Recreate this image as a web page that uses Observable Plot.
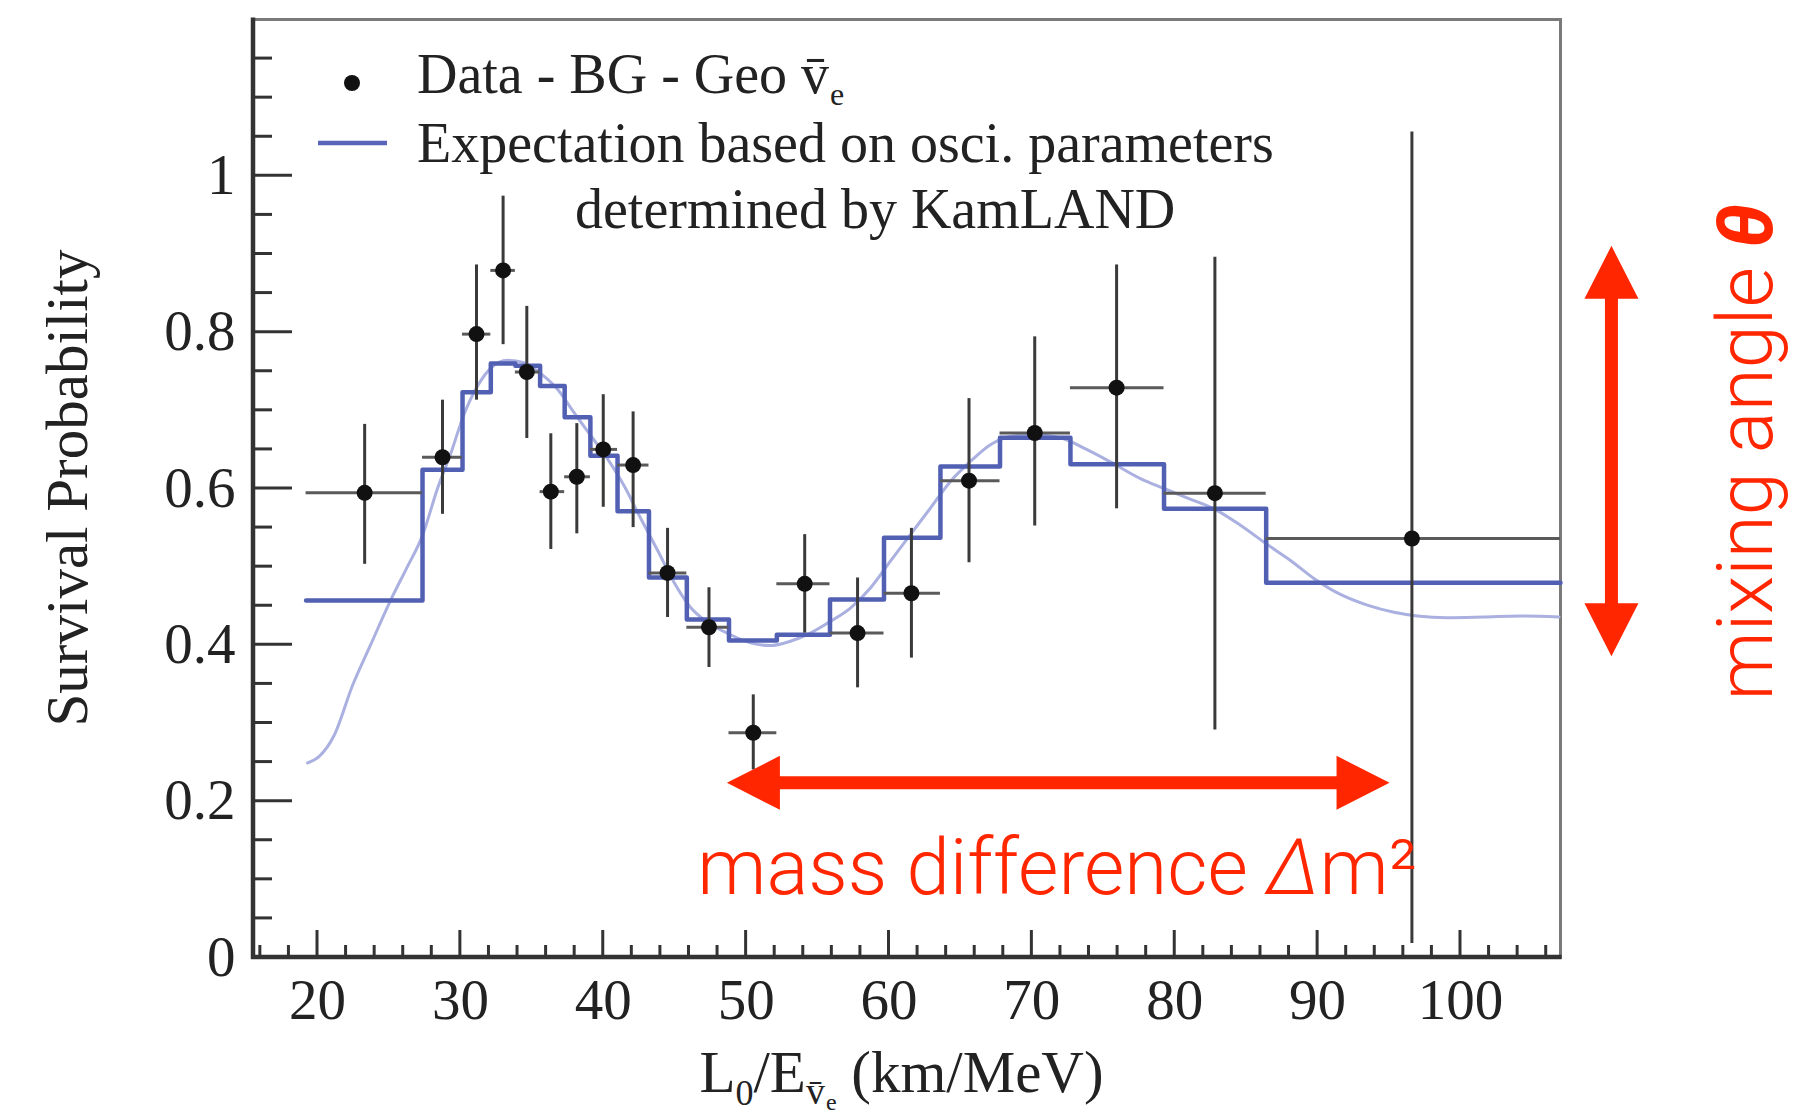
<!DOCTYPE html>
<html><head><meta charset="utf-8">
<script src="https://cdn.jsdelivr.net/npm/d3@7"></script>
<script src="https://cdn.jsdelivr.net/npm/@observablehq/plot@0.6"></script>
<style>body{margin:0;background:#fff}</style>
</head><body><div id="chart"></div>
<script>
// ---- data ----
const binEdges = [19.2, 27.35, 30.15, 32.13, 33.85, 35.58, 37.3, 39.1, 41.0, 43.2, 45.85, 48.8, 52.15, 55.87, 59.65, 63.6, 67.77, 72.7, 79.25, 86.4, 107.0];
const expectedRate = [0.4566, 0.624, 0.723, 0.760, 0.757, 0.731, 0.691, 0.642, 0.571, 0.486, 0.4325, 0.4055, 0.413, 0.458, 0.537, 0.628, 0.665, 0.631, 0.574, 0.4795];
const pointX = [23.3, 28.75, 31.13, 32.99, 34.65, 36.33, 38.15, 40.0, 42.09, 44.5, 47.4, 50.5, 54.1, 57.8, 61.57, 65.6, 70.2, 75.93, 82.81, 96.6];
const pointP = [0.5945, 0.640, 0.7975, 0.879, 0.749, 0.596, 0.615, 0.650, 0.630, 0.492, 0.4225, 0.2875, 0.478, 0.415, 0.466, 0.610, 0.671, 0.729, 0.594, 0.536];
const errLow = [0.503, 0.567, 0.713, 0.784, 0.664, 0.522, 0.542, 0.576, 0.550, 0.435, 0.371, 0.24, 0.415, 0.345, 0.383, 0.505, 0.552, 0.574, 0.291, 0.018];
const errHigh = [0.682, 0.713, 0.886, 0.974, 0.833, 0.670, 0.683, 0.720, 0.698, 0.549, 0.473, 0.336, 0.541, 0.4855, 0.549, 0.715, 0.794, 0.886, 0.896, 1.056];
const curveX = [19.3, 20.1, 21.16, 22.45, 23.73, 25.13, 26.18, 27.35, 28.4, 29.33, 30.26, 31.2, 32.13, 33.3, 34.46, 35.63, 36.8, 37.96, 39.13, 40.3, 41.46, 42.6, 43.8, 44.95, 46.1, 47.2, 48.9, 50.3, 51.7, 53.1, 54.5, 55.9, 57.3, 58.7, 60.1, 61.5, 62.9, 64.3, 65.7, 67.1, 68.5, 70.15, 72.0, 73.65, 75.5, 77.6, 79.25, 80.9, 82.75, 84.6, 86.5, 88.1, 89.74, 91.6, 93.48, 95.34, 96.98, 99.08, 101.6, 104.2, 106.9];
const curveP = [0.249, 0.257, 0.284, 0.348, 0.4005, 0.4575, 0.496, 0.540, 0.600, 0.645, 0.695, 0.731, 0.754, 0.764, 0.761, 0.747, 0.727, 0.697, 0.6675, 0.638, 0.6035, 0.5625, 0.521, 0.480, 0.448, 0.430, 0.413, 0.4025, 0.399, 0.4046, 0.415, 0.430, 0.447, 0.4727, 0.507, 0.541, 0.575, 0.609, 0.6346, 0.656, 0.6665, 0.6687, 0.665, 0.6516, 0.634, 0.6127, 0.600, 0.5876, 0.574, 0.553, 0.528, 0.508, 0.485, 0.4645, 0.4508, 0.4417, 0.437, 0.4348, 0.4357, 0.437, 0.4357];
const xTicks = [20, 30, 40, 50, 60, 70, 80, 90, 100];
const yTicks = [0, 0.2, 0.4, 0.6, 0.8, 1];
const xDomain = [15.52, 107.0];
const yDomain = [0, 1.2];
// annotation anchors (data units)
const massArrowSpan = [48.69, 95.07], massArrowLevel = 0.2228;
const angleArrowSpan = [0.3846, 0.9098], angleArrowPos = 110.6;
const massLabelAt = [71.8, 0.080];
const angleLabelAt = [120.08, 0.646];

// ---- derived tables ----
const points = pointX.map((x, i) => ({x, p: pointP[i], lo: errLow[i], hi: errHigh[i], x1: binEdges[i], x2: binEdges[i + 1]}));
const steps = binEdges.map((x, i) => ({x, p: expectedRate[Math.min(i, expectedRate.length - 1)]}));
const curve = curveX.map((x, i) => ({x, p: curveP[i]}));
const xMinor = d3.range(16, 107, 2);
const yMinor = d3.range(1, 24).map(i => i * 0.05);

const SERIF = "'Liberation Serif','Times New Roman',serif";
const SANS = "Roboto,'Liberation Sans',Helvetica,Arial,sans-serif";
const RED = "#ff2600";
const NUBAR = "v\u0304";

function richText(g, parts, attrs) {
  const t = g.append("text");
  for (const [k, v] of Object.entries(attrs)) t.attr(k, v);
  for (const p of parts) {
    const s = t.append("tspan").text(p.t);
    if (p.size) s.attr("font-size", p.size);
    if (p.dx) s.attr("dx", p.dx);
    if (p.dy) s.attr("dy", p.dy);
    if (p.style) s.attr("font-style", p.style);
    if (p.weight) s.attr("font-weight", p.weight);
  }
  return t;
}

function axesAndTicks(index, {x, y}, values, dims) {
  const g = d3.create("svg:g").attr("stroke", "#333").attr("fill", "none");
  const x0 = dims.marginLeft, x1 = dims.width - dims.marginRight;
  const y0 = dims.height - dims.marginBottom, yt = dims.marginTop;
  for (const t of xMinor) {
    const major = t % 10 === 0;
    g.append("line").attr("x1", x(t)).attr("x2", x(t)).attr("y1", y0).attr("y2", y0 - (major ? 27 : 12)).attr("stroke-width", 3);
  }
  for (const t of yMinor) {
    const major = Math.abs(t / 0.2 - Math.round(t / 0.2)) < 1e-6;
    g.append("line").attr("y1", y(t)).attr("y2", y(t)).attr("x1", x0).attr("x2", x0 + (major ? 39 : 19)).attr("stroke-width", 3);
  }
  g.append("line").attr("x1", x0).attr("x2", x0).attr("y1", yt - 1.5).attr("y2", y0 + 2).attr("stroke-width", 4.5);
  g.append("line").attr("x1", x0 - 2).attr("x2", x1 + 1.5).attr("y1", y0).attr("y2", y0).attr("stroke-width", 4.5);
  return g.node();
}

function titles(index, scales, values, dims) {
  const g = d3.create("svg:g").attr("fill", "#222").attr("font-family", SERIF);
  const cx = (dims.marginLeft + dims.width - dims.marginRight) / 2;
  const cy = (dims.marginTop + dims.height - dims.marginBottom) / 2;
  richText(g, [{t: "Survival Probability"}], {
    transform: `translate(${dims.marginLeft - 166},${cy}) rotate(-90)`, "text-anchor": "middle", "font-size": 59
  });
  richText(g, [
    {t: "L"}, {t: "0", size: 36, dy: 13}, {t: "/E", dy: -13},
    {t: NUBAR, size: 38, dy: 12}, {t: "e", size: 24, dy: 6, dx: 1}, {t: " (km/MeV)", dy: -18}
  ], {transform: `translate(${cx - 5},${dims.height - dims.marginBottom + 135})`, "text-anchor": "middle", "font-size": 59});
  return g.node();
}

function legend(index, scales, values, dims) {
  const g = d3.create("svg:g").attr("font-family", SERIF).attr("fill", "#222").attr("font-size", 56).attr("text-anchor", "start");
  const fx = dims.marginLeft, fy = dims.marginTop;
  g.append("circle").attr("cx", fx + 99).attr("cy", fy + 64).attr("r", 8).attr("fill", "#111");
  g.append("line").attr("x1", fx + 65).attr("x2", fx + 134).attr("y1", fy + 124).attr("y2", fy + 124)
    .attr("stroke", "#5a64b8").attr("stroke-width", 4.5);
  richText(g, [{t: "Data - BG - Geo " + NUBAR}, {t: "e", size: 32, dy: 12, dx: 1}], {x: fx + 164, y: fy + 74, "text-anchor": "start"});
  richText(g, [{t: "Expectation based on osci. parameters"}], {x: fx + 164, y: fy + 143, "text-anchor": "start"});
  richText(g, [{t: "determined by KamLAND"}], {x: fx + 322, y: fy + 209, "text-anchor": "start"});
  return g.node();
}

function annotations(index, {x, y}, values, dims) {
  const g = d3.create("svg:g").attr("fill", RED);
  const L = 53, W = 27, s = 6.5;
  // horizontal double arrow (mass difference)
  const ax1 = x(massArrowSpan[0]), ax2 = x(massArrowSpan[1]), ay = y(massArrowLevel);
  g.append("path").attr("d", `M${ax1},${ay}L${ax1 + L},${ay - W}L${ax1 + L},${ay - s}L${ax2 - L},${ay - s}L${ax2 - L},${ay - W}L${ax2},${ay}L${ax2 - L},${ay + W}L${ax2 - L},${ay + s}L${ax1 + L},${ay + s}L${ax1 + L},${ay + W}Z`);
  // vertical double arrow (mixing angle)
  const bx = x(angleArrowPos), by1 = y(angleArrowSpan[0]), by2 = y(angleArrowSpan[1]);
  g.append("path").attr("d", `M${bx},${by2}L${bx + W},${by2 + L}L${bx + s},${by2 + L}L${bx + s},${by1 - L}L${bx + W},${by1 - L}L${bx},${by1}L${bx - W},${by1 - L}L${bx - s},${by1 - L}L${bx - s},${by2 + L}L${bx - W},${by2 + L}Z`);
  richText(g, [{t: "mass difference "}, {t: "Δ", style: "italic"}, {t: "m²"}], {
    x: x(massLabelAt[0]), y: y(massLabelAt[1]), "text-anchor": "middle", "font-family": SANS, "font-weight": 300, "font-size": 78
  });
  richText(g, [{t: "mixing angle "}, {t: "θ", style: "italic", weight: "bold"}], {
    transform: `translate(${x(angleLabelAt[0])},${y(angleLabelAt[1])}) rotate(-90)`, dy: "0.32em",
    "text-anchor": "middle", "font-family": SANS, "font-weight": 300, "font-size": 78
  });
  return g.node();
}

const chart = Plot.plot({
  width: 1814, height: 1116,
  marginLeft: 253, marginRight: 254, marginTop: 19, marginBottom: 159,
  x: {domain: xDomain, label: null},
  y: {domain: yDomain, label: null},
  style: {fontFamily: SERIF, fontSize: "57px", color: "#222", background: "#fff", overflow: "visible"},
  marks: [
    Plot.frame({stroke: "#7a7a7a", strokeWidth: 3}),
    Plot.line(curve, {x: "x", y: "p", stroke: "#aab0e0", strokeWidth: 3, curve: "monotone-x"}),
    Plot.line(steps, {x: "x", y: "p", curve: "step-after", stroke: "#5260b4", strokeWidth: 4.5}),
    Plot.ruleY(points, {y: "p", x1: "x1", x2: "x2", stroke: "#5a5a5a", strokeWidth: 3}),
    Plot.ruleX(points, {x: "x", y1: "lo", y2: "hi", stroke: "#3a3a3a", strokeWidth: 3}),
    Plot.dot(points, {x: "x", y: "p", r: 8, fill: "#111", stroke: null}),
    Plot.axisX({ticks: xTicks, tickSize: 0, tickPadding: 21, fontSize: 57, label: null, fontFamily: SERIF}),
    Plot.axisY({ticks: yTicks, tickSize: 0, tickPadding: 18, fontSize: 57, label: null, fontFamily: SERIF, tickFormat: d3.format("~g")}),
    axesAndTicks,
    titles,
    legend,
    annotations
  ]
});
document.getElementById("chart").appendChild(chart);
</script>
</body></html>
